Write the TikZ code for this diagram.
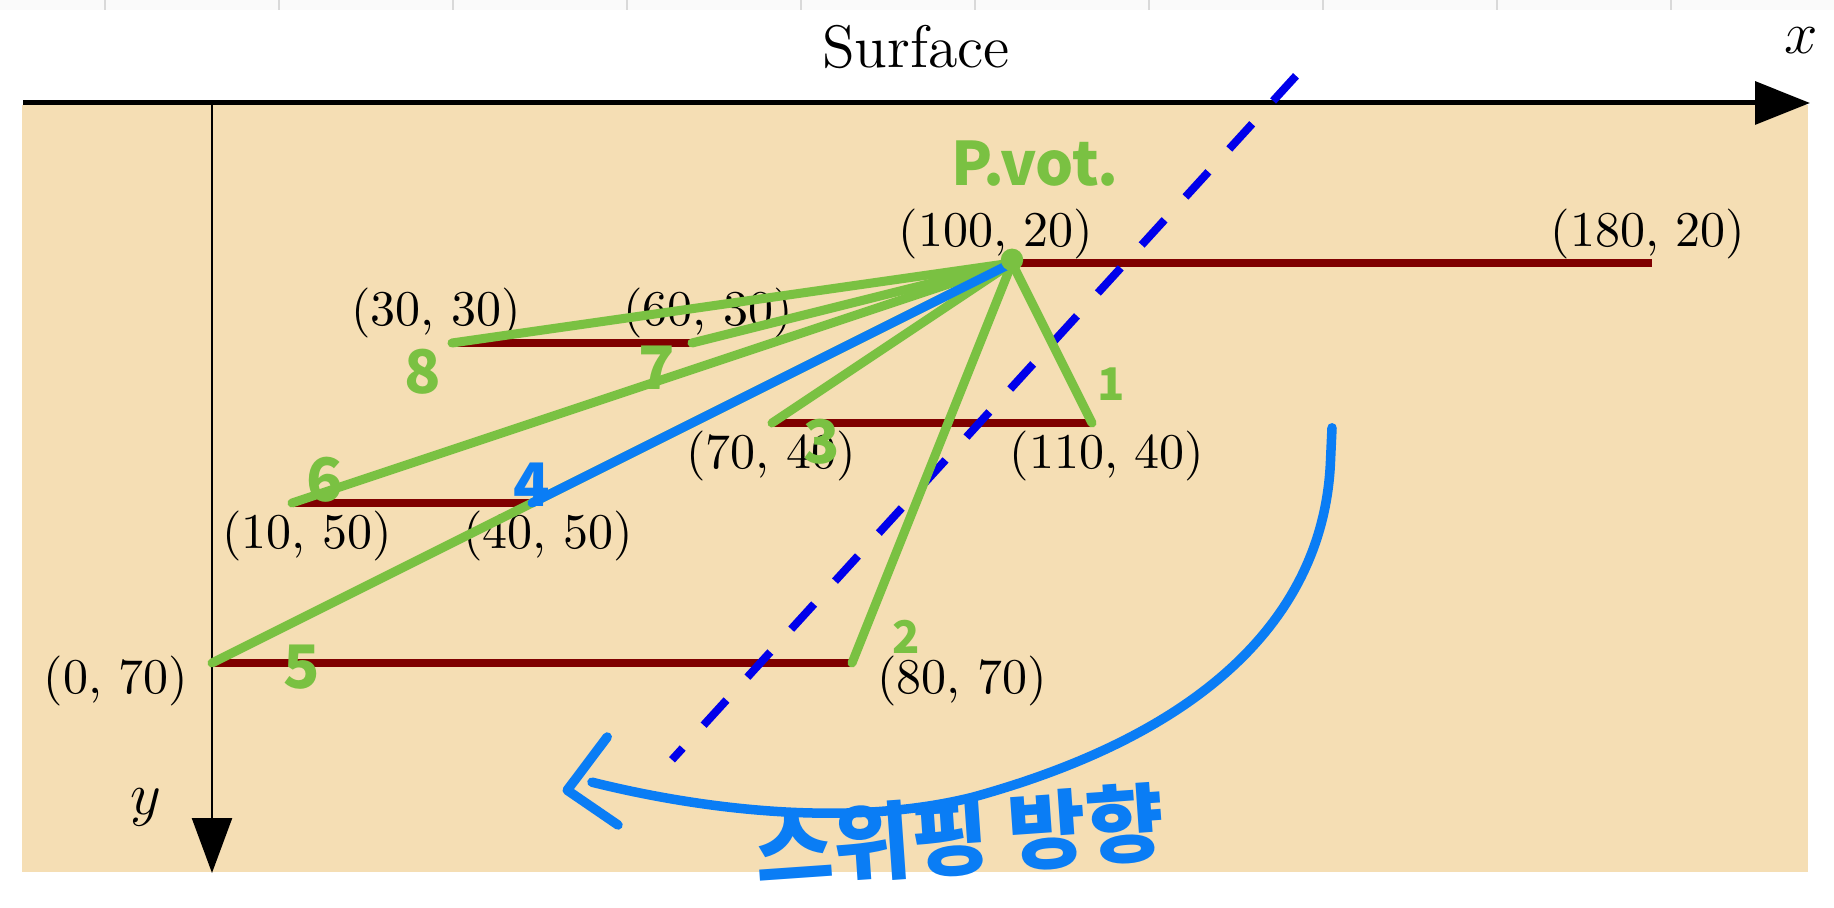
\documentclass[tikz,border=0pt]{standalone}
\usepackage{fontspec}
\usepackage{tikz}
\usetikzlibrary{arrows.meta,positioning,calc}
\newfontfamily\kor{Noto Sans CJK KR}
\definecolor{sand}{RGB}{245,222,180}
\definecolor{layer}{RGB}{128,0,0}
\definecolor{pen}{RGB}{122,193,66}
\definecolor{penblue}{RGB}{10,125,245}
\definecolor{sweep}{RGB}{0,0,235}

\begin{document}
\begin{tikzpicture}[x=1.6pt, y=-1.6pt,
  seg/.style={layer, line width=1.5pt},
  lbl/.style={inner sep=0pt, font=\normalsize},
  ray/.style={pen, line width=1.8pt, line cap=round},
  hand/.style={pen, inner sep=0pt, font=\kor\bfseries\fontsize{12}{12}\selectfont},
  small hand/.style={hand, font=\kor\bfseries\fontsize{9}{9}\selectfont},
  sweepline/.style={sweep, line width=1.6pt, dash pattern=on 6.8pt off 6.2pt}]

\useasboundingbox (-26.5,-12.875) rectangle (202.75,100.625);
\fill[white] (-26.5,-12.875) rectangle (202.75,100.625);
\fill[black!2] (-26.5,-12.875) rectangle (202.75,-11.6);
\foreach \k in {0,...,9}
  \draw[black!15, line width=0.4pt] ({-13.4+21.75*\k},-12.875) -- ++(0,1.3);
\fill[sand] (-23.75,0.25) rectangle (199.5,96.1);

% axes
\draw[line width=1pt, -{Triangle[length=11pt,width=8.5pt]}] (-23.6,0) -- (199.75,0);
\draw[line width=0.5pt, -{Triangle[length=11pt,width=8pt]}] (0,0) -- (0,96.25);
\node (surf) at (88,-7) {\large Surface};
\node (xlab) at (198.6,-7.75) {\large $x$};
\node (ylab) at (-8.25,88) {\large $y$};

% layers
\coordinate (piv) at (100,20);
\coordinate (a2) at (180,20);
\coordinate (b1) at (30,30);
\coordinate (b2) at (60,30);
\coordinate (c1) at (70,40);
\coordinate (c2) at (110,40);
\coordinate (d1) at (10,50);
\coordinate (d2) at (40,50);
\coordinate (e1) at (0,70);
\coordinate (e2) at (80,70);

\draw[seg] (piv) -- (a2);
\draw[seg] (b1) -- (b2);
\draw[seg] (c1) -- (c2);
\draw[seg] (d1) -- (d2);
\draw[seg] (e1) -- (e2);

\node[lbl] (t10020) at (98,16.4) {(100, 20)};
\node[lbl] (t18020) at (179.5,16.4) {(180, 20)};
\node[lbl] (t3030) at (28,26.25) {(30, 30)};
\node[lbl] (t6030) at (62,26.25) {(60, 30)};
\node[lbl] (t7040) at (69.9,44.1) {(70, 40)};
\node[lbl] (t11040) at (111.9,44.1) {(110, 40)};
\node[lbl] (t1050) at (11.9,54.1) {(10, 50)};
\node[lbl] (t4050) at (42,54.1) {(40, 50)};
\node[lbl] (t070) at (-12,72.25) {(0, 70)};
\node[lbl] (t8070) at (93.75,72.25) {(80, 70)};

\coordinate (ds) at (135.5,-3.4);
\coordinate (de) at (57.5,82.1);
\draw[sweepline] (ds) -- (de);

% annotations
\draw[ray] (piv) -- (c2);
\draw[ray] (piv) -- (e2);
\draw[ray] (piv) -- (c1);
\draw[ray] (piv) -- (e1);
\draw[ray] (piv) -- (d1);
\draw[ray] (piv) -- (b2);
\draw[ray] (piv) -- (b1);
\draw[ray, penblue] (piv) -- (d2);
\fill[pen] (piv) ++(0,-0.4) circle (1.4);

\node[small hand] (n1) at (112.4,35.1) {1};
\node[small hand] (n2) at (86.75,66.75) {2};
\node[hand] (n3) at (76.25,42.4) {3};
\node[hand, penblue] (n4) at (40,47.75) {4};
\node[hand] (n5) at (11.25,70.5) {5};
\node[hand] (n6) at (14.1,47.1) {6};
\node[hand] (n7) at (55.6,33.1) {7};
\node[hand] (n8) at (26.4,33.6) {8};
\node[hand] (pvt) at (102.9,7.6) {P.vot.};

\coordinate (arcs) at (140,40.6);
\coordinate (arce) at (47.5,84.9);
\coordinate (tipup) at (49.4,79.25);
\coordinate (tip) at (44.4,85.9);
\coordinate (tipdn) at (50.75,90.25);
\draw[penblue, line width=1.9pt, line cap=round] (arcs) -- (139.8,45)
  .. controls (139,62) and (127,78) .. (95,86.8)
  .. controls (80,90.5) and (62,88.5) .. (arce);
\draw[penblue, line width=1.9pt, line cap=round, line join=round] (tipup) -- (tip) -- (tipdn);
\node[penblue, inner sep=0pt, rotate=4, font=\kor\bfseries\fontsize{17}{17}\selectfont] (swp) at (93.5,91.6) {스위핑 방향};

\end{tikzpicture}
\end{document}
